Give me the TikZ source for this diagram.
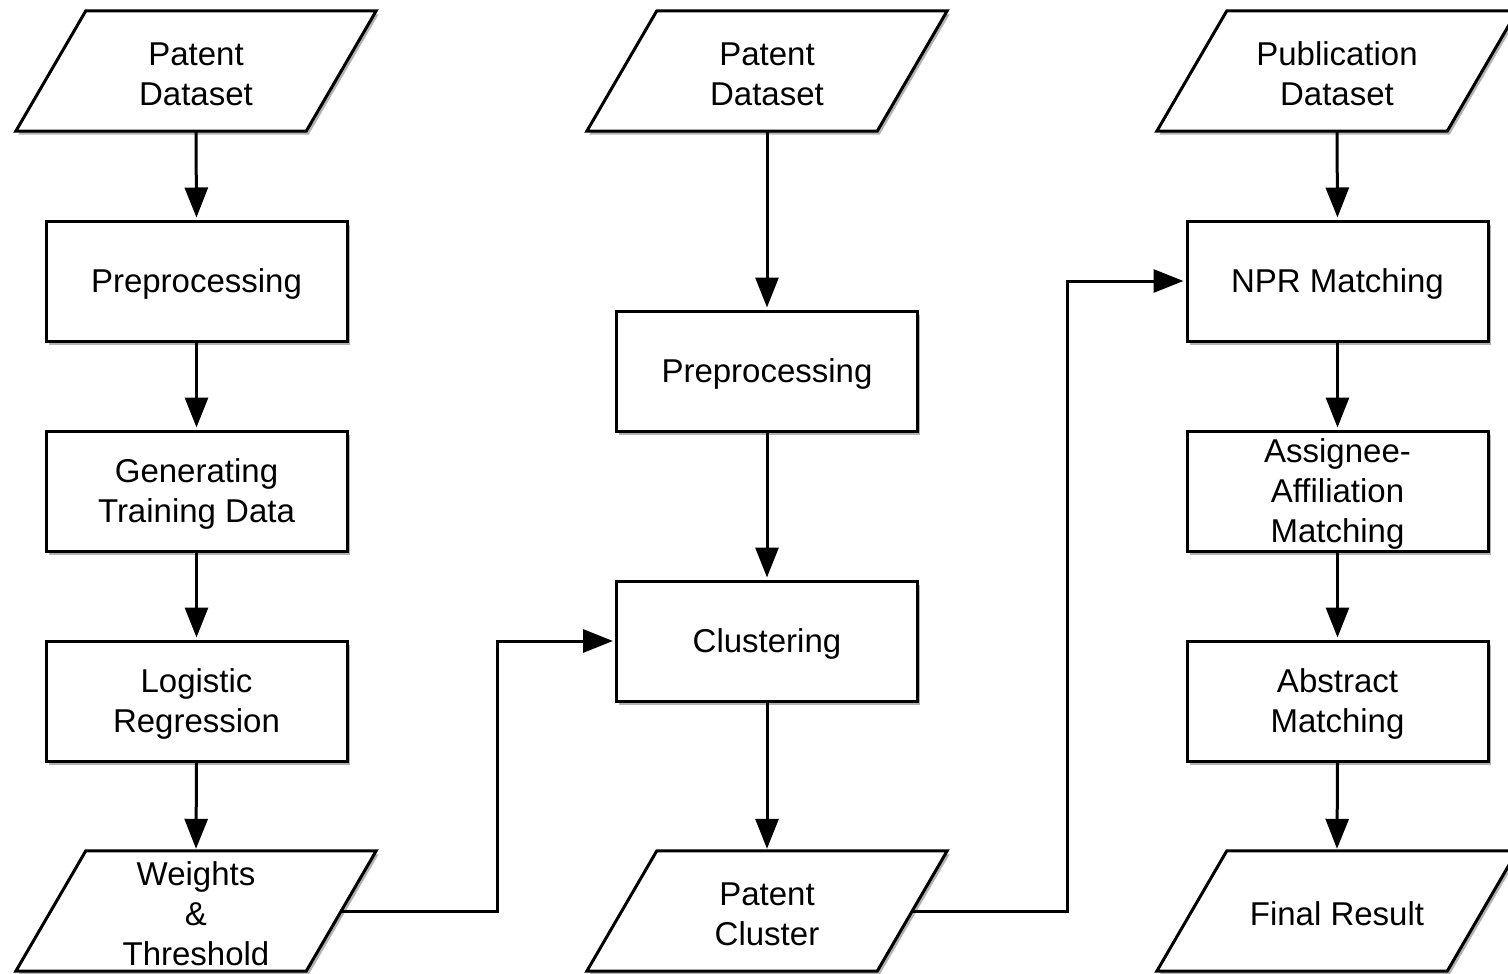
\documentclass[tikz,border=0pt]{standalone}
\usepackage{fontspec}
\setmainfont{Liberation Sans}
\usetikzlibrary{arrows.meta,shadows,calc}
\begin{document}
\begin{tikzpicture}[x=1pt,y=-1pt,
  every node/.style={font=\fontsize{33}{40}\selectfont, align=center},
  txt/.style={yshift=-3pt},
  box/.style={draw, line width=3pt, fill=white, minimum width=301pt, minimum height=120pt, inner sep=0pt,
    drop shadow={shadow xshift=2.5pt, shadow yshift=-3.5pt, fill=black, opacity=0.3}},
  parabody/.style={minimum width=290pt, minimum height=120pt, inner sep=0pt},
  paraline/.style={draw, line width=3pt, fill=white, line join=miter,
    drop shadow={shadow xshift=2.5pt, shadow yshift=-3.5pt, fill=black, opacity=0.3}},
  arr/.style={line width=3pt, -{Triangle[length=30pt,width=23pt]}, shorten >=2pt}
]
\useasboundingbox (0,0) rectangle (1508,974);
\clip (0,0) rectangle (1508,974);
% parallelogram bodies (invisible, for anchors)
\node[parabody] (p1) at (196,71) {};
\node[parabody] (p5) at (196,911) {};
\node[parabody] (m1) at (767,71) {};
\node[parabody] (m4) at (767,911) {};
\node[parabody] (r1) at (1337,71) {};
\node[parabody] (r5) at (1337,911) {};
\foreach \n in {p1,p5,m1,m4,r1,r5}
  \path[paraline] ([xshift=35pt]\n.north west) -- ([xshift=35pt]\n.north east) -- ([xshift=-35pt]\n.south east) -- ([xshift=-35pt]\n.south west) -- cycle;
\node[txt] at (p1) {Patent\\Dataset};
\node[txt] at (p5) {Weights\\\&\\Threshold};
\node[txt] at (m1) {Patent\\Dataset};
\node[txt] at (m4) {Patent\\Cluster};
\node[txt] at (r1) {Publication\\Dataset};
\node[txt] at (r5) {Final Result};
% rectangles
\node[box] (p2) at (196.5,281) {};
\node[box] (p3) at (196.5,491) {};
\node[box] (p4) at (196.5,701) {};
\node[box] (m2) at (767,371) {};
\node[box] (m3) at (767,641) {};
\node[box] (r2) at (1337.5,281) {};
\node[box] (r3) at (1337.5,491) {};
\node[box] (r4) at (1337.5,701) {};
\node[txt] at (p2) {Preprocessing};
\node[txt] at (p3) {Generating\\Training Data};
\node[txt] at (p4) {Logistic\\Regression};
\node[txt] at (m2) {Preprocessing};
\node[txt] at (m3) {Clustering};
\node[txt] at (r2) {NPR Matching};
\node[txt] at (r3) {Assignee-\\Affiliation\\Matching};
\node[txt] at (r4) {Abstract\\Matching};
% arrows
\draw[arr] (p1.south) -- (p2.north);
\draw[arr] (p2.south) -- (p3.north);
\draw[arr] (p3.south) -- (p4.north);
\draw[arr] (p4.south) -- (p5.north);
\draw[arr] (m1.south) -- (m2.north);
\draw[arr] (m2.south) -- (m3.north);
\draw[arr] (m3.south) -- (m4.north);
\draw[arr] (r1.south) -- (r2.north);
\draw[arr] (r2.south) -- (r3.north);
\draw[arr] (r3.south) -- (r4.north);
\draw[arr] (r4.south) -- (r5.north);
\draw[arr, line join=miter] (p5.east) -- ++(156,0) |- (m3.west);
\draw[arr, line join=miter] (m4.east) -- ++(155,0) |- (r2.west);
\end{tikzpicture}
\end{document}
